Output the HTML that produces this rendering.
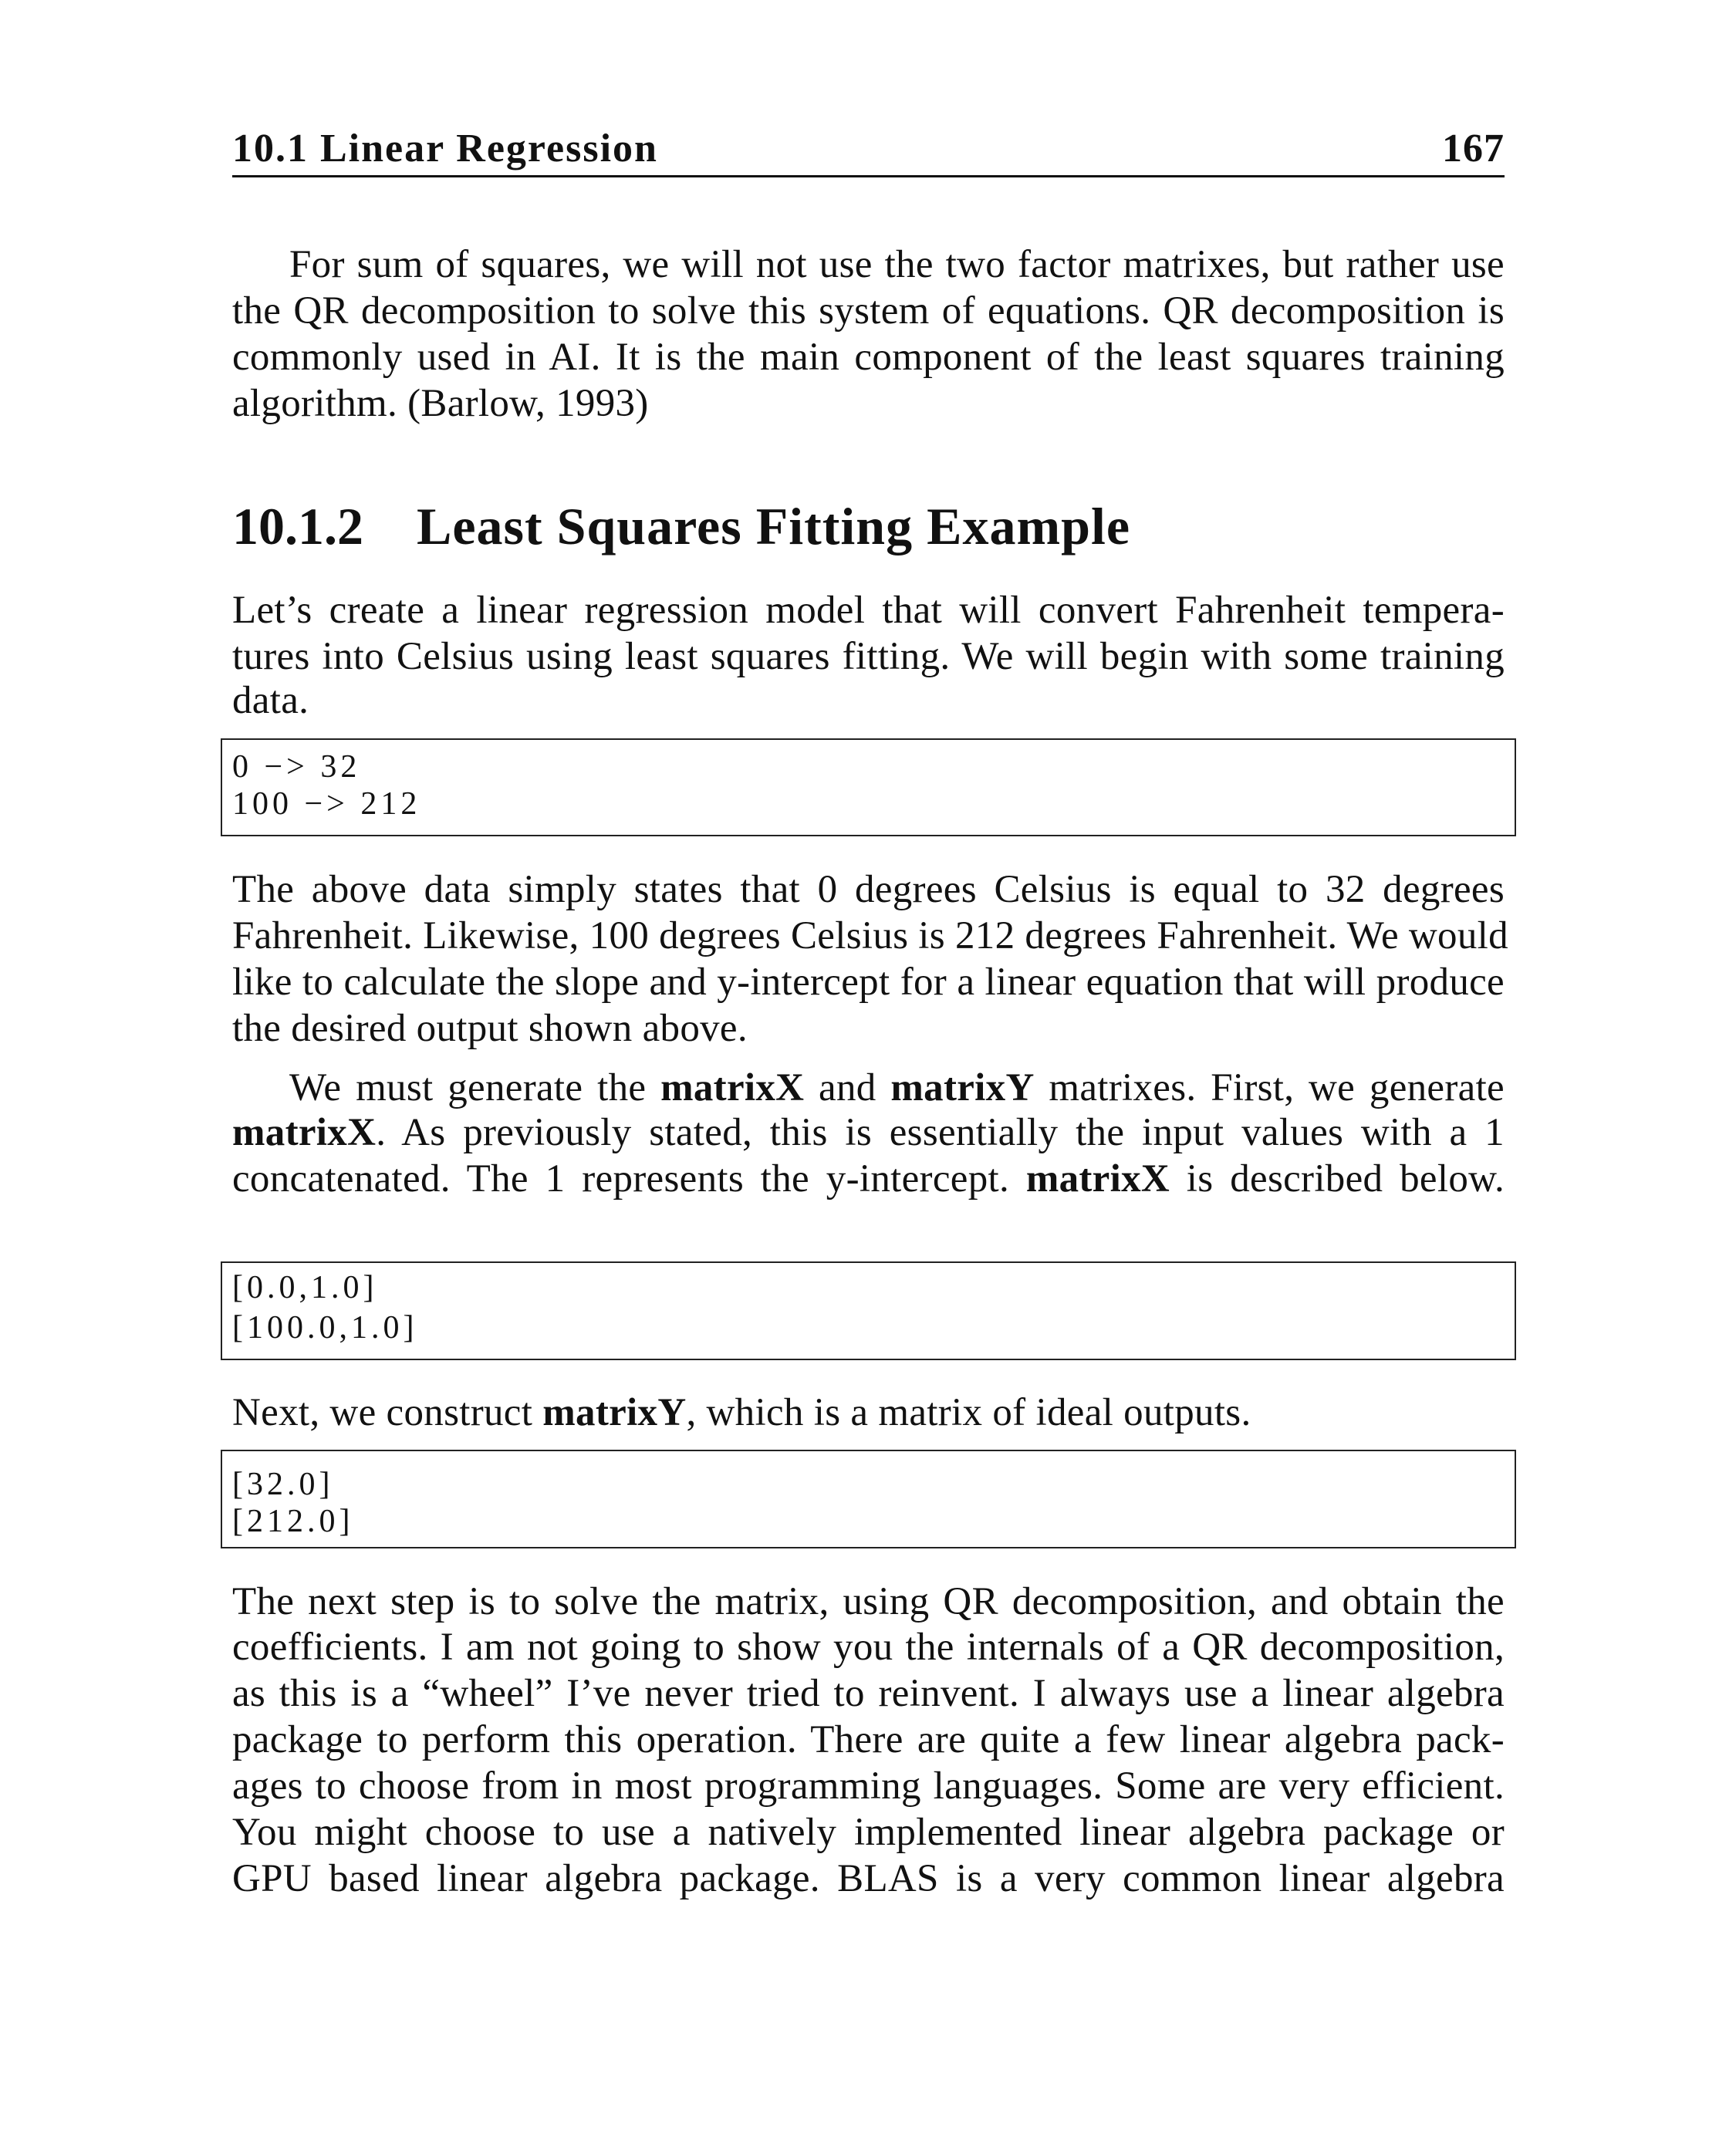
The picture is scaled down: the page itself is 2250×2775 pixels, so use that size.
<!DOCTYPE html>
<html><head><meta charset="utf-8"><style>
body{margin:0;background:#fff;}
#p{position:relative;width:2250px;height:2775px;background:#fff;font-family:"Liberation Serif",serif;color:#111;}
.l{position:absolute;left:301px;width:1649px;font-size:51px;line-height:60px;height:60px;white-space:nowrap;text-align:justify;text-align-last:justify;letter-spacing:0.3px;}
.e{text-align-last:left;}
.i{left:375px;width:1575px;}
.c{position:absolute;left:301px;font-size:42px;line-height:48px;letter-spacing:5px;white-space:nowrap;}
.box{position:absolute;left:286px;width:1675px;border:2px solid #222;}
b{font-weight:bold;}
</style></head><body><div id="p">
<div class="l e" style="top:163px;font-weight:bold;font-size:52px;letter-spacing:2px;">10.1 Linear Regression</div>
<div style="position:absolute;right:300px;top:163px;font-size:52px;line-height:60px;font-weight:bold;letter-spacing:1px;">167</div>
<div style="position:absolute;left:301px;top:227px;width:1649px;height:3px;background:#111"></div>

<div class="l i" style="top:313px">For sum of squares, we will not use the two factor matrixes, but rather use</div>
<div class="l" style="top:373px">the QR decomposition to solve this system of equations. QR decomposition is</div>
<div class="l" style="top:433px">commonly used in AI. It is the main component of the least squares training</div>
<div class="l e" style="top:493px">algorithm. (Barlow, 1993)</div>

<div style="position:absolute;left:301px;top:642px;font-size:68px;line-height:80px;font-weight:bold;white-space:nowrap">10.1.2</div>
<div style="position:absolute;left:540px;top:642px;font-size:68px;line-height:80px;font-weight:bold;white-space:nowrap;letter-spacing:1px">Least Squares Fitting Example</div>

<div class="l" style="top:761px">Let’s create a linear regression model that will convert Fahrenheit tempera-</div>
<div class="l" style="top:821px">tures into Celsius using least squares fitting. We will begin with some training</div>
<div class="l e" style="top:878px">data.</div>

<div class="box" style="top:957px;height:123px"></div>
<div class="c" style="top:970px">0 −&gt; 32</div>
<div class="c" style="top:1018px">100 −&gt; 212</div>

<div class="l" style="top:1123px">The above data simply states that 0 degrees Celsius is equal to 32 degrees</div>
<div class="l" style="top:1183px">Fahrenheit. Likewise, 100 degrees Celsius is 212 degrees Fahrenheit. We would</div>
<div class="l" style="top:1243px">like to calculate the slope and y-intercept for a linear equation that will produce</div>
<div class="l e" style="top:1303px">the desired output shown above.</div>

<div class="l i" style="top:1380px">We must generate the <b>matrixX</b> and <b>matrixY</b> matrixes. First, we generate</div>
<div class="l" style="top:1438px"><b>matrixX</b>. As previously stated, this is essentially the input values with a 1</div>
<div class="l" style="top:1498px">concatenated. The 1 represents the y-intercept. <b>matrixX</b> is described below.</div>

<div class="box" style="top:1635px;height:124px"></div>
<div class="c" style="top:1645px">[0.0,1.0]</div>
<div class="c" style="top:1697px">[100.0,1.0]</div>

<div class="l e" style="top:1801px">Next, we construct <b>matrixY</b>, which is a matrix of ideal outputs.</div>

<div class="box" style="top:1879px;height:124px"></div>
<div class="c" style="top:1900px">[32.0]</div>
<div class="c" style="top:1948px">[212.0]</div>

<div class="l" style="top:2046px">The next step is to solve the matrix, using QR decomposition, and obtain the</div>
<div class="l" style="top:2105px">coefficients. I am not going to show you the internals of a QR decomposition,</div>
<div class="l" style="top:2165px">as this is a “wheel” I’ve never tried to reinvent. I always use a linear algebra</div>
<div class="l" style="top:2225px">package to perform this operation. There are quite a few linear algebra pack-</div>
<div class="l" style="top:2285px">ages to choose from in most programming languages. Some are very efficient.</div>
<div class="l" style="top:2345px">You might choose to use a natively implemented linear algebra package or</div>
<div class="l" style="top:2405px">GPU based linear algebra package. BLAS is a very common linear algebra</div>
</div></body></html>
